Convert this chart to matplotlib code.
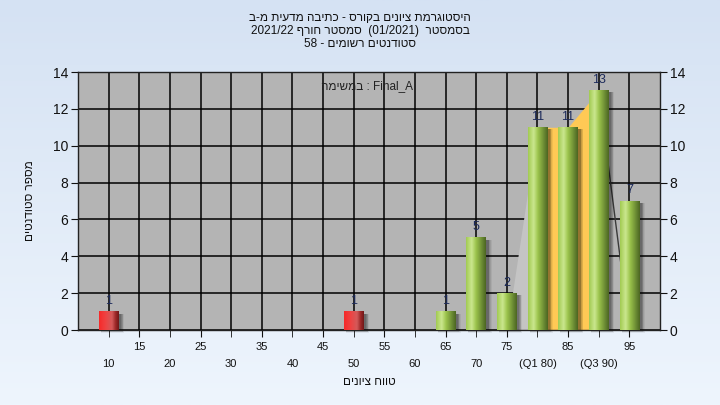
import numpy as np
import matplotlib
matplotlib.use("Agg")
import matplotlib.pyplot as plt
from matplotlib.colors import LinearSegmentedColormap
from matplotlib.patches import Rectangle

plt.rcParams['font.family'] = ['Liberation Sans', 'DejaVu Sans']

# ---- data ----
categories = [10, 15, 20, 25, 30, 35, 40, 45, 50, 55, 60, 65, 70, 75, 80, 85, 90, 95]
counts = [1, 0, 0, 0, 0, 0, 0, 0, 1, 0, 0, 1, 5, 2, 11, 11, 13, 7]
tick_labels = ["10", "15", "20", "25", "30", "35", "40", "45", "50", "55", "60",
               "65", "70", "75", "(Q1 80)", "85", "(Q3 90)", "95"]
pass_grade = 55
quart_x = [75, 80, 85, 90, 95]
quart_y = [0, 11, 11, 13, 0]
q1, q3 = 80, 90

title_lines = ["היסטוגרמת ציונים בקורס - כתיבה מדעית מ-ב",
               "בסמסטר  (01/2021)  סמסטר חורף 2021/22",
               "סטודנטים רשומים - 58"]
annot = "Final_A : במשימה"
xlabel = "טווח ציונים"
ylabel = "מספר סטודנטים"


# ---- simple bidi reordering for right-to-left paragraphs ----
def _cls(ch):
    if '\u0590' <= ch <= '\u05FF':
        return 'R'
    if ch.isdigit():
        return 'EN'
    if ch.isalpha():
        return 'L'
    return 'N'


def rtl(text):
    n = len(text)
    t = [_cls(c) for c in text]
    for i in range(1, n - 1):
        if t[i] == 'N' and text[i] in "/.,:" and t[i - 1] == 'EN' and t[i + 1] == 'EN':
            t[i] = 'EN'
    res = list(t)
    i = 0
    while i < n:
        if t[i] == 'N':
            j = i
            while j < n and t[j] == 'N':
                j += 1
            left = t[i - 1] if i > 0 else 'R'
            right = t[j] if j < n else 'R'
            lft = 'R' if left in ('R', 'EN') else 'L'
            rgt = 'R' if right in ('R', 'EN') else 'L'
            d = 'L' if (lft == 'L' and rgt == 'L') else 'R'
            for k in range(i, j):
                res[k] = d
            i = j
        else:
            i += 1
    levels = [1 if r == 'R' else 2 for r in res]
    chars = list(text)
    mirror = {'(': ')', ')': '(', '[': ']', ']': '[', '<': '>', '>': '<'}
    chars = [mirror.get(c, c) if lv == 1 else c for c, lv in zip(chars, levels)]
    idx = list(range(n))
    for lev in (2, 1):
        out = []
        i = 0
        while i < n:
            if levels[idx[i]] >= lev:
                j = i
                while j < n and levels[idx[j]] >= lev:
                    j += 1
                out.extend(reversed(idx[i:j]))
                i = j
            else:
                out.append(idx[i])
                i += 1
        idx = out
    return ''.join(chars[k] for k in idx)


W, H = 720, 405
fig = plt.figure(figsize=(W / 100, H / 100), dpi=100)

bg = fig.add_axes([0, 0, 1, 1], zorder=-10)
grad = np.linspace(0, 1, 256)[:, None]
bgcmap = LinearSegmentedColormap.from_list("bg", ["#D5E2F3", "#EEF5FD"])
bg.imshow(grad, aspect="auto", cmap=bgcmap, extent=[0, 1, 0, 1], origin="upper")
bg.axis("off")

L, R, T, B = 78, 660, 72, 330
ax = fig.add_axes([L / W, 1 - B / H, (R - L) / W, (B - T) / H])
ax.set_facecolor("#B4B4B4")
ax.set_xlim(5, 100)
ax.set_ylim(0, 14)

ax.set_axisbelow(True)
ax.grid(True, color="black", linewidth=1.1, zorder=0)

# quartile area
qx = np.array(quart_x, float)
qy = np.array(quart_y, float)
m_left = (qx <= q1)
ax.fill_between(qx[m_left], 0, qy[m_left], color="#C4C4C4", zorder=1, linewidth=0)
m_mid = (qx >= q1) & (qx <= q3)
ax.fill_between(qx[m_mid], 0, qy[m_mid], color="#FFC955", zorder=1, linewidth=0)
m_right = (qx >= q3)
ax.plot(qx[m_right], qy[m_right], color="#3A3A3A", linewidth=1.0, zorder=1)

# bars with cylinder gradient
green = LinearSegmentedColormap.from_list(
    "g", [(0, "#A2CA52"), (0.28, "#CBE78F"), (0.5, "#9CC44C"), (0.8, "#6C8C34"), (1, "#4C6622")])
red = LinearSegmentedColormap.from_list(
    "r", [(0, "#F62A2A"), (0.3, "#F04040"), (0.65, "#D45A5A"), (0.85, "#9A2626"), (1, "#701818")])
bw = 3.2
px_x = 95 / (R - L)
px_y = 14 / (B - T)
row = np.linspace(0, 1, 64)[None, :]
for c, v in zip(categories, counts):
    if v <= 0:
        continue
    cmap = red if c < pass_grade else green
    for k, a in zip(range(5, 0, -1), [0.06, 0.08, 0.10, 0.12, 0.14]):
        ax.add_patch(Rectangle((c - bw / 2 + 2 * px_x, -k * px_y * 0.6),
                               bw + k * px_x * 0.7, v - 2 * px_y + k * px_y * 0.6,
                               facecolor="black", alpha=a, linewidth=0, zorder=2,
                               clip_on=False))
    ax.imshow(row, cmap=cmap, aspect="auto", extent=[c - bw / 2, c + bw / 2, 0, v],
              zorder=3, interpolation="bilinear")
    ax.text(c, v + 0.25, str(v), ha="center", va="bottom", fontsize=9,
            color="#1C2A5A", zorder=5)

ax.set_xlim(5, 100)
ax.set_ylim(0, 14)

maj = [c for i, c in enumerate(categories) if i % 2 == 1]
mnr = [c for i, c in enumerate(categories) if i % 2 == 0]
ax.set_xticks(maj)
ax.set_xticklabels([tick_labels[i] for i in range(len(categories)) if i % 2 == 1])
ax.set_xticks(mnr, minor=True)
ax.set_xticklabels([tick_labels[i] for i in range(len(categories)) if i % 2 == 0], minor=True)
ax.tick_params(axis="x", which="major", length=5, pad=4, labelsize=8, colors="#111111")
ax.tick_params(axis="x", which="minor", length=5, pad=16, labelsize=8, colors="#111111")
ax.xaxis.grid(True, which="minor", color="black", linewidth=1.1)

ax.set_yticks(range(0, 15, 2))
ax.tick_params(axis="y", length=5, labelsize=10, colors="#111111",
               left=True, right=True, labelleft=True, labelright=True, pad=2)
for s in ax.spines.values():
    s.set_color("#222222")
    s.set_linewidth(1.0)

ax.set_xlabel(rtl(xlabel), fontsize=8.5, labelpad=5, color="#111111")
ax.set_ylabel(rtl(ylabel), fontsize=8.5, rotation=90, color="#111111")
ax.yaxis.set_label_coords(-0.072, 0.5)

ax.text(0.497, 0.945, rtl(annot), transform=ax.transAxes, ha="center", va="center",
        fontsize=8.5, color="#222222", zorder=6)

for i, line in enumerate(title_lines):
    fig.text(0.5, 1 - (18 + 13 * i) / H, rtl(line), ha="center", va="center",
             fontsize=8.5, color="#111111")

fig.savefig("out.png", dpi=100)
